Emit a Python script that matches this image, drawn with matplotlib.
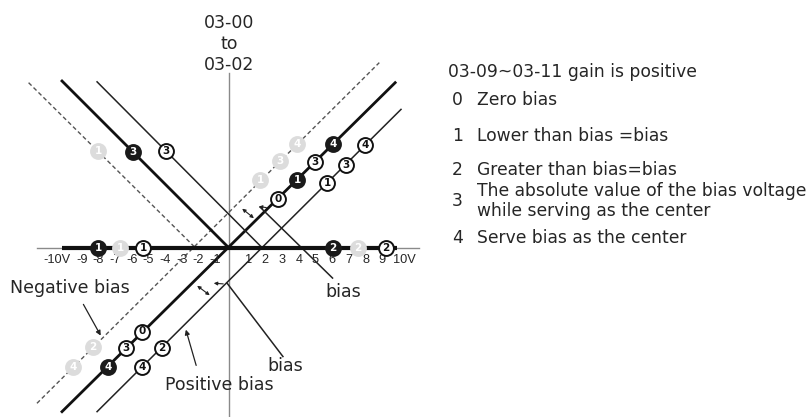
import matplotlib
matplotlib.use("Agg")
import matplotlib.pyplot as plt
from matplotlib.transforms import ScaledTranslation

# ---------------- data (volts) ----------------
# V-shaped characteristic lines: (x_start, x_end), (y_start, y_end)
dashed_left_x = [-12.0, -2.1]
dashed_left_y = [9.9, 0.1]
dashed_right_x = [-11.5, 9.0]
dashed_right_y = [-9.3, 11.1]

thick_left_x = [-10.0, 0.0]
thick_left_y = [10.0, 0.0]
thick_right_x = [-10.0, 9.95]
thick_right_y = [-9.8, 9.9]

thin_left_x = [-7.9, 2.0]
thin_left_y = [9.95, 0.0]
thin_right_x = [-7.9, 10.3]
thin_right_y = [-9.8, 8.3]

bias_upper_x = [1.86, 6.2]
bias_upper_y = [2.45, -1.8]
bias_lower_x = [-0.12, 3.23]
bias_lower_y = [-2.1, -6.5]

# numbered circle markers
marker_x = [-7.84, -6.5, -5.15, 6.2, 7.7, 9.4,
            -7.84, -5.76, -3.8,
            1.86, 3.05, 4.07,
            2.94, 4.07, 5.15, 6.23,
            5.87, 7.0, 8.14,
            -8.14, -9.34,
            -5.2, -6.17, -7.25,
            -4.0, -5.2]
marker_y = [0.0, 0.0, 0.0, 0.0, 0.0, 0.0,
            5.8, 5.75, 5.8,
            4.1, 5.2, 6.2,
            2.95, 4.07, 5.15, 6.2,
            3.9, 5.0, 6.15,
            -5.95, -7.13,
            -5.0, -6.0, -7.15,
            -6.0, -7.15]
marker_label = ["1", "1", "1", "2", "2", "2",
                "1", "3", "3",
                "1", "3", "4",
                "0", "1", "3", "4",
                "1", "3", "4",
                "2", "4",
                "0", "3", "4",
                "2", "4"]
marker_style = ["filled", "gray", "outline", "filled", "gray", "outline",
                "gray", "filled", "outline",
                "gray", "gray", "gray",
                "outline", "filled", "outline", "filled",
                "outline", "outline", "outline",
                "gray", "gray",
                "outline", "outline", "filled",
                "outline", "outline"]

tick_values = [-10, -9, -8, -7, -6, -5, -4, -3, -2, -1, 1, 2, 3, 4, 5, 6, 7, 8, 9, 10]
tick_labels = ["-10V", "-9", "-8", "-7", "-6", "-5", "-4", "-3", "-2", "-1",
               "1", "2", "3", "4", "5", "6", "7", "8", "9", "10V"]

legend_title = "03-09~03-11 gain is positive"
legend_nums = ["0", "1", "2", "3", "4"]
legend_texts = ["Zero bias", "Lower than bias =bias", "Greater than bias=bias",
                "The absolute value of the bias voltage\nwhile serving as the center",
                "Serve bias as the center"]

# ---------------- figure ----------------
W, H = 811, 417
X0, Y0, S = 229.0, 248.0, 16.7  # pixel origin and px per volt

fig = plt.figure(figsize=(W / 100, H / 100), dpi=100)
fig.patch.set_facecolor("white")
ax = fig.add_axes([0, 0, 1, 1])
ax.set_xlim((0 - X0) / S, (W - X0) / S)
ax.set_ylim((Y0 - H) / S, Y0 / S)
ax.axis("off")

def fx(px):
    return px / W

def fy(py):
    return 1 - py / H

FONT = "DejaVu Sans"
TXT = "#262626"

# axes
ax.plot([0, 0], [(Y0 - H) / S, (Y0 - 73) / S], color="#8a8a8a", lw=1.0, zorder=1)
ax.plot([-11.5, 11.4], [0, 0], color="#8a8a8a", lw=1.0, zorder=1)
ax.plot([-10, 10.05], [0, 0], color="#111111", lw=3.0, solid_capstyle="butt", zorder=3)

# lines
dash_kw = dict(color="#555555", lw=1.0, dashes=(3, 2), zorder=2)
ax.plot(dashed_left_x, dashed_left_y, **dash_kw)
ax.plot(dashed_right_x, dashed_right_y, **dash_kw)
ax.plot(thick_left_x, thick_left_y, color="#111111", lw=2.0, zorder=2)
ax.plot(thick_right_x, thick_right_y, color="#111111", lw=2.0, zorder=2)
thin_kw = dict(color="#222222", lw=1.1, zorder=2)
ax.plot(thin_left_x, thin_left_y, **thin_kw)
ax.plot(thin_right_x, thin_right_y, **thin_kw)
ax.plot(bias_upper_x, bias_upper_y, **thin_kw)
ax.plot(bias_lower_x, bias_lower_y, **thin_kw)

# markers
styles = {
    "filled": dict(face="#1a1a1a", edge="#1a1a1a", text="white"),
    "gray": dict(face="#dcdcdc", edge="#dcdcdc", text="white"),
    "outline": dict(face="white", edge="#111111", text="#111111"),
}
for x, y, lab, st in zip(marker_x, marker_y, marker_label, marker_style):
    s = styles[st]
    ax.scatter([x], [y], s=115, facecolor=s["face"], edgecolor=s["edge"],
               linewidth=1.4, zorder=5)
    ax.text(x, y, lab, ha="center", va="center", fontsize=7.5, fontweight="bold",
            color=s["text"], family=FONT, zorder=6)

# tick labels
tick_tr = ax.transData + ScaledTranslation(0, -12 / 100, fig.dpi_scale_trans)
for v, lab in zip(tick_values, tick_labels):
    if v == -10:
        x, ha = -9.5, "right"
    elif v == 10:
        x, ha = 9.8, "left"
    else:
        x, ha = v + 0.18, "center"
    ax.text(x, 0, lab, ha=ha, va="center", fontsize=9.2,
            family="Liberation Sans", color=TXT, transform=tick_tr)

# arrows
arr_kw = dict(arrowstyle="-|>", color="#222222", lw=0.9, mutation_scale=7)
ax.annotate("", xy=(-7.6, -5.39), xytext=(-8.8, -3.23), arrowprops=arr_kw)
ax.annotate("", xy=(-2.63, -4.73), xytext=(-1.92, -7.19), arrowprops=arr_kw)
dbl_kw = dict(arrowstyle="<|-|>", color="#222222", lw=0.8, mutation_scale=5)
sgl_kw = dict(arrowstyle="-|>", color="#222222", lw=0.8, mutation_scale=5)
ax.annotate("", xy=(0.66, 2.46), xytext=(1.62, 1.68), arrowprops=dbl_kw)
ax.annotate("", xy=(1.62, 2.5), xytext=(2.4, 2.4), arrowprops=sgl_kw)
ax.annotate("", xy=(-2.04, -2.16), xytext=(-1.02, -2.93), arrowprops=dbl_kw)
ax.annotate("", xy=(-1.08, -2.1), xytext=(-0.18, -2.16), arrowprops=sgl_kw)

# texts
fig.text(fx(229), fy(44), "03-00\nto\n03-02", ha="center", va="center",
         fontsize=12.5, family=FONT, color=TXT, linespacing=1.2)
fig.text(fx(10), fy(288), "Negative bias", ha="left", va="center",
         fontsize=12.5, family=FONT, color=TXT)
fig.text(fx(325), fy(292), "bias", ha="left", va="center",
         fontsize=12.5, family=FONT, color=TXT)
fig.text(fx(267), fy(366), "bias", ha="left", va="center",
         fontsize=12.5, family=FONT, color=TXT)
fig.text(fx(165), fy(385), "Positive bias", ha="left", va="center",
         fontsize=12.5, family=FONT, color=TXT)

# legend text on the right
fig.text(fx(448), fy(72), legend_title, ha="left", va="center",
         fontsize=12.3, family=FONT, color=TXT)
num_y = [100, 136, 170, 201, 238]
for num, txt, py in zip(legend_nums, legend_texts, num_y):
    fig.text(fx(452), fy(py), num, ha="left", va="center",
             fontsize=12.3, family=FONT, color=TXT)
    fig.text(fx(477), fy(py), txt, ha="left", va="center",
             fontsize=12.3, family=FONT, color=TXT, linespacing=1.2)

fig.savefig("out.png", dpi=100, facecolor="white")
